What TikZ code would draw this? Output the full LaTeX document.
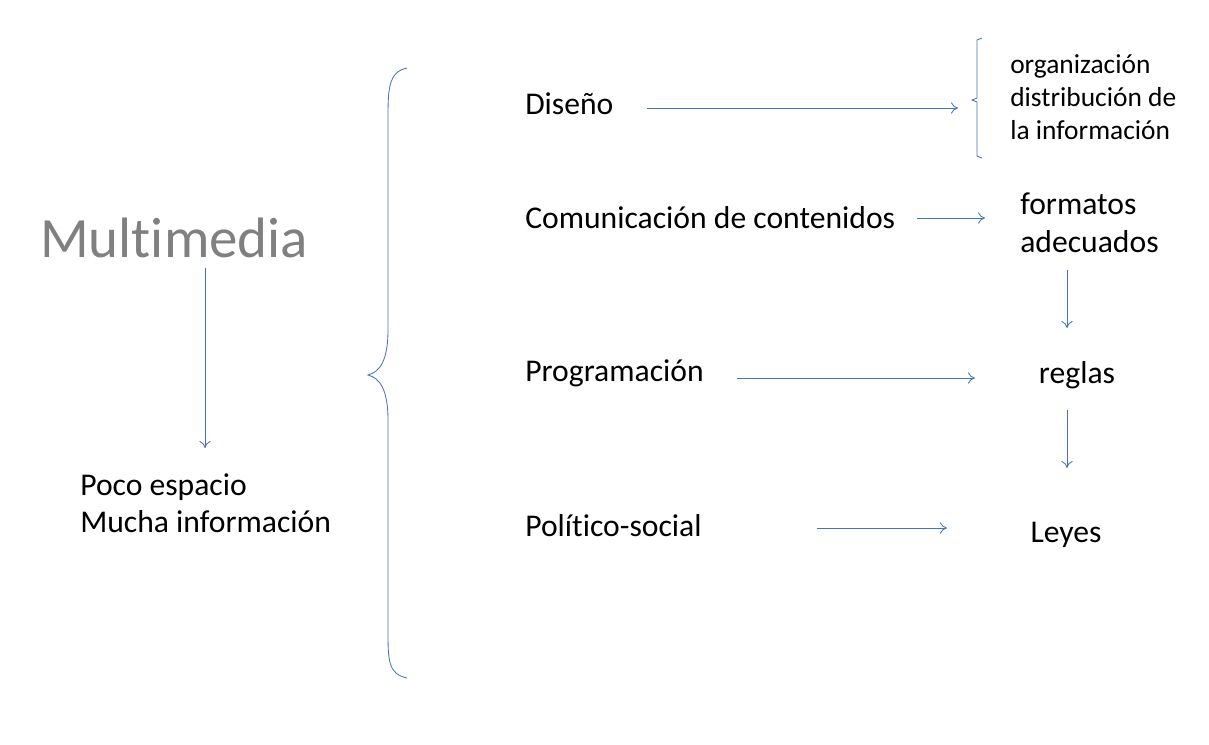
\documentclass[tikz,border=0pt]{standalone}
\usepackage{fontspec}
\setmainfont[Ligatures={NoCommon}]{Carlito}
\usetikzlibrary{arrows.meta}
\definecolor{lineblue}{RGB}{68,114,196}
\definecolor{titlegray}{RGB}{128,128,128}
\begin{document}
\begin{tikzpicture}[x=0.025cm,y=-0.025cm]
	\tikzset{
		txt/.style={anchor=west,inner sep=0,font=\fontsize{22.5}{27}\selectfont},
		small txt/.style={anchor=west,inner sep=0,align=left,font=\fontsize{19.5}{23.5}\selectfont},
		flow/.style={draw=lineblue,-{To[length=5pt,width=8pt]},line width=0.6pt}
	}
	\useasboundingbox (0,0) rectangle (1209,744);
	\node(multi)[anchor=west,inner sep=0,text=titlegray,font=\fontsize{40.5}{44}\selectfont] at (40,238) {Multimedia};
	\node(poco)[txt,align=left,font=\fontsize{22.5}{26}\selectfont] at (80,503) {Poco espacio\\Mucha información};
	\node(diseno)[txt] at (525,104) {Diseño};
	\node(comun)[txt] at (525,218) {Comunicación de contenidos};
	\node(prog)[txt] at (525,373) {Programación};
	\node(polit)[txt] at (525,526) {Político-social};
	\node(org)[small txt] at (1010,97) {organización\\distribución de\\la información};
	\node(formatos)[txt,align=left,font=\fontsize{22.5}{27}\selectfont] at (1020,223) {formatos\\adecuados};
	\node(reglas)[txt,anchor=center] at (1077,375) {reglas};
	\node(leyes)[txt,anchor=center] at (1066,535) {Leyes};
	% connectors
	\coordinate (m1) at (205,268); \coordinate (m2) at (205,448);
	\draw[flow] (m1) -- (m2);
	\coordinate (d1) at (647,108); \coordinate (d2) at (958,108);
	\draw[flow] (d1) -- (d2);
	\coordinate (c1) at (917,218); \coordinate (c2) at (985,218);
	\draw[flow] (c1) -- (c2);
	\coordinate (p1) at (737,378); \coordinate (p2) at (975,378);
	\draw[flow] (p1) -- (p2);
	\coordinate (s1) at (817,528); \coordinate (s2) at (947,528);
	\draw[flow] (s1) -- (s2);
	\coordinate (f1) at (1067,270); \coordinate (f2) at (1067,328);
	\draw[flow] (f1) -- (f2);
	\coordinate (r1) at (1067,410); \coordinate (r2) at (1067,468);
	\draw[flow] (r1) -- (r2);
	% braces
	\draw[lineblue,line width=0.6pt] (407,68) .. controls (388,72) and (388,90) .. (388,120)
		-- (388,330) .. controls (388,360) and (380,372) .. (368,375)
		.. controls (380,378) and (388,390) .. (388,420)
		-- (388,630) .. controls (388,660) and (388,674) .. (407,678);
	\draw[lineblue,line width=0.6pt] (982,38) -- (977,40) -- (977,98) -- (972,100) -- (977,102) -- (977,156) -- (982,158);
\end{tikzpicture}
\end{document}
